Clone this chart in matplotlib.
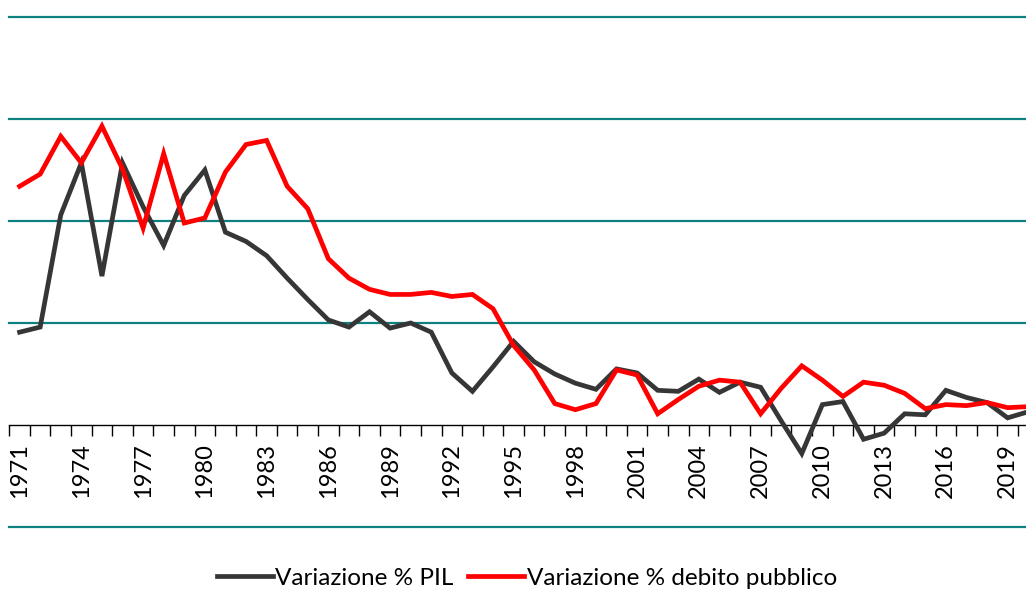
import numpy as np
import matplotlib
matplotlib.use("Agg")
import matplotlib.pyplot as plt
from matplotlib.lines import Line2D

years = list(range(1971, 2021))
pil = [9.1, 9.6, 20.6, 25.7, 14.6, 25.7, 21.4, 17.6, 22.5, 25.0,
       18.9, 18.0, 16.6, 14.4, 12.3, 10.3, 9.6, 11.1, 9.5, 10.0,
       9.1, 5.1, 3.3, 5.7, 8.2, 6.2, 5.0, 4.1, 3.5, 5.5,
       5.1, 3.4, 3.3, 4.5, 3.2, 4.2, 3.7, 0.4, -2.8, 2.0,
       2.3, -1.4, -0.8, 1.1, 1.0, 3.4, 2.7, 2.2, 0.7, 1.3]
debito = [23.4, 24.6, 28.3, 25.7, 29.3, 25.1, 19.3, 26.6, 19.8, 20.3,
          24.8, 27.5, 27.9, 23.4, 21.2, 16.3, 14.4, 13.3, 12.8, 12.8,
          13.0, 12.6, 12.8, 11.4, 7.8, 5.4, 2.1, 1.5, 2.1, 5.4,
          4.9, 1.1, 2.5, 3.8, 4.4, 4.2, 1.1, 3.6, 5.8, 4.4,
          2.8, 4.2, 3.9, 3.1, 1.6, 2.0, 1.9, 2.2, 1.7, 1.8]
grid_levels = [-10, 10, 20, 30, 40]
label_every = 3

plt.rcParams['font.family'] = ['Lato', 'DejaVu Sans']

W, H = 1026, 591
fig = plt.figure(figsize=(W / 100, H / 100), dpi=100)
left_px, right_px, top_px, bot_px = 9.3, 1038.5, 17, 527
ax = fig.add_axes([left_px / W, 1 - bot_px / H, (right_px - left_px) / W, (bot_px - top_px) / H])

x = np.arange(len(years))
for g in grid_levels:
    ax.axhline(g, color='#0f8080', lw=1.6, clip_on=False, zorder=1)

ax.plot(x, pil, color='#363636', lw=3.4, solid_joinstyle='miter', zorder=3, label='Variazione % PIL')
ax.plot(x, debito, color='#ff0000', lw=3.4, solid_joinstyle='miter', zorder=3, label='Variazione % debito pubblico')

ax.set_xlim(-0.5, len(years) - 0.5)
ax.set_ylim(-10, 40)

for s in ['left', 'right', 'top']:
    ax.spines[s].set_visible(False)
ax.spines['bottom'].set_position(('data', 0))
ax.spines['bottom'].set_color('black')
ax.spines['bottom'].set_linewidth(1.0)
ax.spines['bottom'].set_zorder(2)

ax.set_yticks([])
ax.set_xticks(np.arange(-0.5, len(years), 1))
ax.set_xticklabels([])
ax.tick_params(axis='x', which='major', direction='out', length=8, width=1, color='black')
ax.set_xticks(x[::label_every], minor=True)
ax.set_xticklabels([str(y) for y in years[::label_every]], minor=True, rotation=90, fontsize=17)
ax.tick_params(axis='x', which='minor', length=0, pad=13)

handles = [Line2D([], [], color='#363636', lw=3.4), Line2D([], [], color='#ff0000', lw=3.4)]
fig.legend(handles, ['Variazione % PIL', 'Variazione % debito pubblico'],
           loc='center', bbox_to_anchor=(527 / W, 1 - 578 / H), ncol=2, frameon=False,
           fontsize=17.5, handlelength=2.3, handletextpad=0.1, columnspacing=0.6)

fig.savefig('out.png', dpi=100)
